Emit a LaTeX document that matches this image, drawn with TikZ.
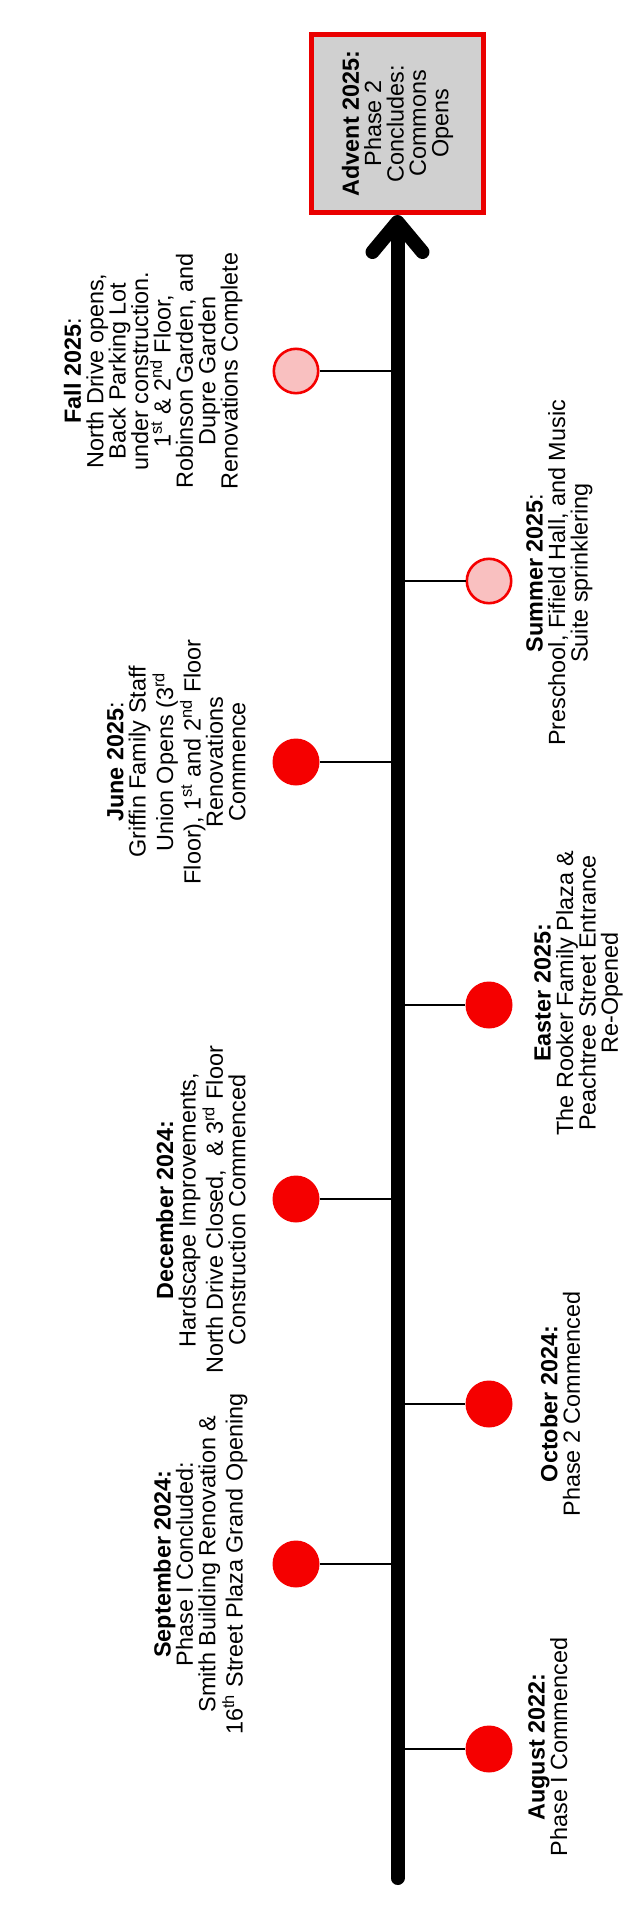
\documentclass[tikz,border=0pt]{standalone}
\usepackage{fontspec}
\setmainfont{Liberation Sans}
\usetikzlibrary{arrows.meta, positioning, calc}
\definecolor{dotred}{HTML}{F50000}
\definecolor{dotpink}{HTML}{F9C0C0}
\definecolor{goalgray}{HTML}{D0D0D0}
\definecolor{goalred}{HTML}{EA0000}
\newcommand{\notefont}{\fontsize{11.7}{11.2}\selectfont}

\begin{document}
\begin{tikzpicture}[x=0.5pt, y=-0.5pt,
      milestone/.style={circle, fill=dotred, minimum size=23.5pt,
        inner sep=0pt},
      upcoming/.style={milestone, fill=dotpink, draw=dotred,
        line width=1.3pt, minimum size=22.2pt},
      note/.style={rotate=90, align=center, inner sep=0pt,
        font=\notefont},
      goal/.style={rotate=90, draw=goalred, fill=goalgray,
        line width=2.5pt, minimum width=89pt, minimum height=86pt,
        align=center, inner sep=0pt, font=\notefont},
      stem/.style={line width=1.3pt},
      spine/.style={line width=7pt, line cap=round, line join=round},
      >={Straight Barb[round, length=15pt, width=25pt]}
    ]
      \useasboundingbox (0,0) rectangle (643,1920);
      % end of the line
      \node[goal] (advent) at (397.5,123.5)
        {\textbf{Advent 2025:}\\Phase 2\\Concludes:\\Commons\\Opens};
      \coordinate (base) at (397.5,1878);
      % milestones, left of the line
      \node[upcoming] (fall) at (296,371) {};
      \node[milestone] (june) at (296,762) {};
      \node[milestone] (december) at (296,1199) {};
      \node[milestone] (september) at (296,1564) {};
      % milestones, right of the line
      \node[upcoming] (summer) at (489,581) {};
      \node[milestone] (easter) at (489,1005) {};
      \node[milestone] (october) at (489,1404) {};
      \node[milestone] (august) at (489,1749) {};
      % notes
      \node[note, anchor=south] (fallnote) at (243,371)
        {\textbf{Fall 2025}:\\North Drive opens,\\Back Parking Lot\\under construction.\\1\textsuperscript{st} \& 2\textsuperscript{nd} Floor,\\Robinson Garden, and\\Dupre Garden\\Renovations Complete};
      \node[note, anchor=south] (junenote) at (246,762)
        {\textbf{June 2025}:\\Griffin Family Staff\\Union Opens (3\textsuperscript{rd}\\Floor), 1\textsuperscript{st} and 2\textsuperscript{nd} Floor\\Renovations\\Commence};
      \node[note, anchor=south] (decembernote) at (246,1210)
        {\textbf{December 2024:}\\Hardscape Improvements,\\North Drive Closed,\ \ \& 3\textsuperscript{rd} Floor\\Construction Commenced};
      \node[note, anchor=south] (septembernote) at (248,1564)
        {\textbf{September 2024:}\\Phase I Concluded:\\Smith Building Renovation \&\\16\textsuperscript{th} Street Plaza Grand Opening};
      \node[note, anchor=north] (summernote) at (526,573)
        {\textbf{Summer 2025}:\\Preschool, Fifield Hall, and Music\\Suite sprinklering};
      \node[note, anchor=north] (easternote) at (534,993)
        {\textbf{Easter 2025:}\\The Rooker Family Plaza \&\\Peachtree Street Entrance\\Re-Opened};
      \node[note, anchor=north] (octobernote) at (540,1404)
        {\textbf{October 2024:}\\Phase 2 Commenced};
      \node[note, anchor=north] (augustnote) at (528,1747)
        {\textbf{August 2022:}\\Phase I Commenced};
      % stems
      \draw[stem] (fall) -- (fall -| base);
      \draw[stem] (june) -- (june -| base);
      \draw[stem] (december) -- (december -| base);
      \draw[stem] (september) -- (september -| base);
      \draw[stem] (summer) -- (summer -| base);
      \draw[stem] (easter) -- (easter -| base);
      \draw[stem] (october) -- (october -| base);
      \draw[stem] (august) -- (august -| base);
      % the line (advent.west is its lower side, the node is turned)
      \draw[spine, ->] (base) -- (advent.west);
    \end{tikzpicture}
\end{document}
